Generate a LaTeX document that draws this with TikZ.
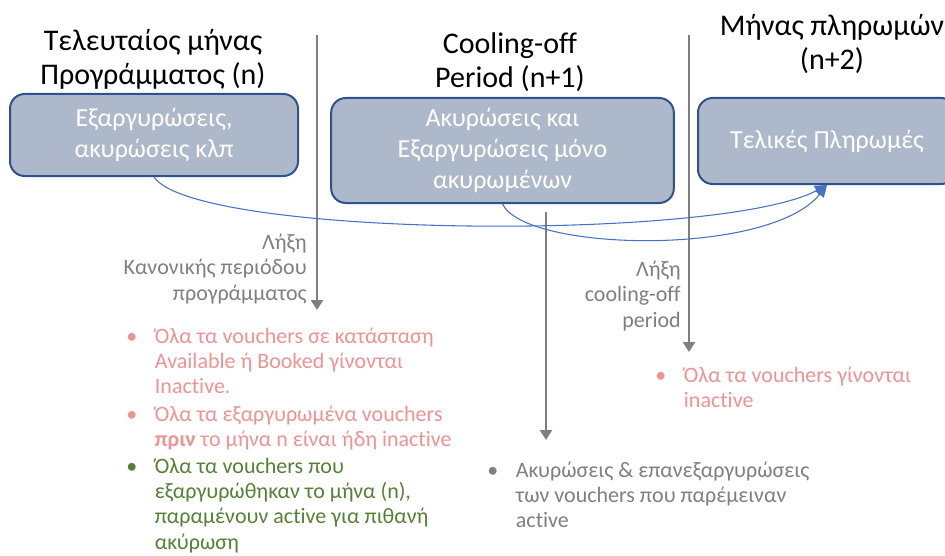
\documentclass[tikz,border=0pt]{standalone}
\usepackage{fontspec}
\setmainfont{Carlito}[Ligatures=NoCommon]
\usetikzlibrary{arrows.meta}
\definecolor{boxfill}{RGB}{173,185,202}
\definecolor{boxline}{RGB}{47,82,143}
\definecolor{arrblue}{RGB}{68,114,196}
\definecolor{lgray}{RGB}{127,127,127}
\definecolor{pinkc}{RGB}{238,146,146}
\definecolor{greenc}{RGB}{84,130,53}
\newcommand{\itm}[1]{\makebox[21.5pt][l]{\textbullet}\begin{tabular}[t]{@{}l@{}}#1\end{tabular}}
\begin{document}
\begin{tikzpicture}[x=0.75pt,y=-0.75pt,
					period/.style = {align=center, inner sep=0pt,
						font=\fontsize{22.5}{25.5}\selectfont},
					phase/.style = {shape=rectangle, rounded corners=11pt,
						draw=boxline, line width=1.5pt, fill=boxfill, inner sep=0pt,
						text=white, align=center, font=\fontsize{19.5}{23}\selectfont},
					cutoff/.style = {draw=lgray, line width=2pt,
						-{Triangle[length=7.5pt,width=9pt]}},
					flow/.style = {draw=arrblue, line width=0.8pt,
						-{Triangle[length=9pt,width=8pt]}},
					endnote/.style = {anchor=east, align=right, inner sep=0pt,
						text=lgray, font=\fontsize{16.5}{19}\selectfont},
					item/.style = {anchor=base west, inner sep=0pt,
						font=\fontsize{16.5}{19}\selectfont}]
				\useasboundingbox (0,0) rectangle (945,556);
				% periods
				\node[period] (month) at (153,59) {Τελευταίος μήνας\\Προγράμματος (n)};
				\node[period] (cooling) at (510,62) {Cooling-off\\Period (n+1)};
				\node[period] (payment) at (832,44) {Μήνας πληρωμών\\(n+2)};
				% phases
				\node[phase, minimum width=216pt, minimum height=61.5pt] (redeem) at (154,135)
					{Εξαργυρώσεις,\\ακυρώσεις κλπ};
				\node[phase, minimum width=257pt, minimum height=78.75pt] (cancel) at (502.5,150.5)
					{Ακυρώσεις και\\Εξαργυρώσεις μόνο\\ακυρωμένων};
				\node[phase, minimum width=193.5pt, minimum height=64.5pt] (final) at (827,141)
					{Τελικές Πληρωμές};
				% cut-off lines
				\coordinate (c1top) at (317,35);
				\coordinate (c1end) at (317,310);
				\coordinate (c2top) at (689,35);
				\coordinate (c2end) at (689,352);
				\coordinate (c3top) at (546,212);
				\coordinate (c3end) at (546,440);
				\draw[cutoff] (c1top) -- (c1end);
				\draw[cutoff] (c2top) -- (c2end);
				\draw[cutoff] (c3top) -- (c3end);
				\draw[flow] (redeem.south) .. controls (195,238) and (720,242) .. (final.south);
				\draw[flow] (cancel.south) .. controls (525,252) and (770,257) .. (final.south);
				\node[endnote] (end1) at (307,269) {Λήξη\\Κανονικής περιόδου\\προγράμματος};
				\node[endnote] (end2) at (681,296) {Λήξη\\cooling-off\\period};
				% notes
				\node[item, text=pinkc] (n1) at (126,343)
					{\itm{Όλα τα vouchers σε κατάσταση\\Available ή Booked γίνονται\\Inactive.}};
				\node[item, text=pinkc] (n2) at (126,421)
					{\itm{Όλα τα εξαργυρωμένα vouchers\\\textbf{πριν} το μήνα n είναι ήδη inactive}};
				\node[item, text=greenc] (n3) at (126,473)
					{\itm{Όλα τα vouchers που\\εξαργυρώθηκαν το μήνα (n),\\παραμένουν active για πιθανή\\ακύρωση}};
				\node[item, text=lgray] (n4) at (487,477)
					{\itm{Ακυρώσεις \& επανεξαργυρώσεις\\των vouchers που παρέμειναν\\active}};
				\node[item, text=pinkc] (n5) at (655,382)
					{\itm{Όλα τα vouchers γίνονται\\inactive}};
				\end{tikzpicture}
\end{document}
